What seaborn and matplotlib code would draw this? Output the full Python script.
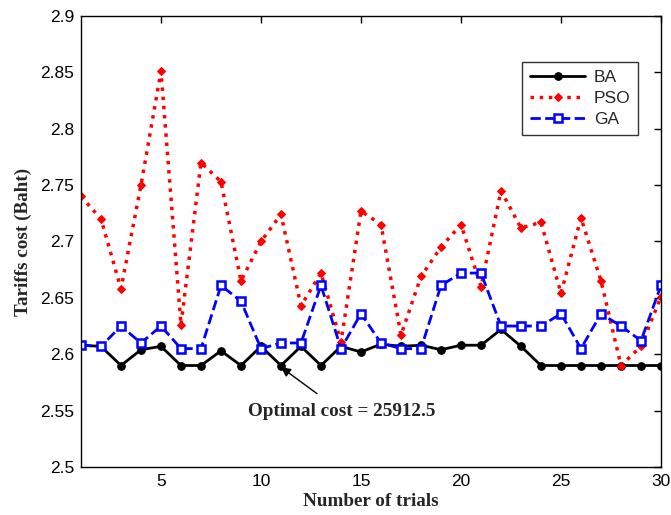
import matplotlib
matplotlib.use("Agg")
import matplotlib.pyplot as plt
import seaborn as sns
import pandas as pd
import numpy as np

trials = list(range(1, 31))
ba = [2.608, 2.607, 2.590, 2.604, 2.607, 2.590, 2.590, 2.603, 2.590, 2.607,
      2.590, 2.607, 2.590, 2.607, 2.602, 2.609, 2.607, 2.608, 2.604, 2.608,
      2.608, 2.622, 2.607, 2.590, 2.590, 2.590, 2.590, 2.590, 2.590, 2.590]
pso = [2.740, 2.720, 2.658, 2.750, 2.851, 2.626, 2.770, 2.753, 2.665, 2.700,
       2.724, 2.643, 2.672, 2.611, 2.727, 2.715, 2.617, 2.669, 2.695, 2.715,
       2.660, 2.745, 2.712, 2.717, 2.654, 2.721, 2.665, 2.590, 2.607, 2.651]
ga = [2.608, 2.607, 2.625, 2.610, 2.625, 2.605, 2.605, 2.661, 2.647, 2.605,
      2.610, 2.610, 2.661, 2.605, 2.636, 2.610, 2.605, 2.605, 2.661, 2.672,
      2.672, 2.625, 2.625, 2.625, 2.636, 2.605, 2.636, 2.625, 2.612, 2.661]
series_names = ["BA", "PSO", "GA"]
x_ticks = [5, 10, 15, 20, 25, 30]
y_ticks = [2.5, 2.55, 2.6, 2.65, 2.7, 2.75, 2.8, 2.85, 2.9]
annotation_text = "Optimal cost = 25912.5"

df = pd.DataFrame({"trial": trials * 3,
                   "cost": ba + pso + ga,
                   "alg": sum([[n] * len(trials) for n in series_names], [])})

sns.set_style("white")
plt.rcParams['font.family'] = ['Liberation Sans', 'DejaVu Sans']

fig = plt.figure(figsize=(6.71, 5.15), dpi=100)
ax = fig.add_axes([0.1207, 0.0932, 0.8644, 0.8758])

styles = {
    "BA": dict(color="black", linestyle="-", linewidth=2, marker="o",
               markersize=5.5, markerfacecolor="black", markeredgecolor="black"),
    "PSO": dict(color="red", linestyle=":", linewidth=2.5, marker="D",
                markersize=4, markerfacecolor="red", markeredgecolor="red"),
    "GA": dict(color="blue", linestyle="--", linewidth=2, marker="s",
               markersize=5.5, markerfacecolor="white", markeredgecolor="blue",
               markeredgewidth=1.8),
}
for name in series_names:
    sub = df[df["alg"] == name]
    sns.lineplot(data=sub, x="trial", y="cost", ax=ax, label=name,
                 **styles[name])

ax.set_xlim(1, 30)
ax.set_ylim(2.5, 2.9)
ax.set_xticks(x_ticks)
ax.set_yticks(y_ticks)
ax.set_yticklabels([f"{v:g}" for v in y_ticks])
ax.tick_params(direction="in", top=True, right=True, length=5, width=1,
               labelsize=12.5, colors="black", pad=5)
for s in ax.spines.values():
    s.set_color("black")
    s.set_linewidth(1)

ax.set_xlabel("Number of trials", family="Liberation Serif", fontweight="bold",
              fontsize=13.8, labelpad=3)
ax.set_ylabel("Tariffs cost (Baht)", family="Liberation Serif", fontweight="bold",
              fontsize=13.8, labelpad=6)

ax.annotate(annotation_text, xy=(11.0, 2.5885), xytext=(14.05, 2.5488),
            ha="center", va="center", family="Liberation Serif",
            fontweight="bold", fontsize=13.8,
            arrowprops=dict(arrowstyle="-|>", color="black", lw=1,
                            shrinkA=8, shrinkB=0, mutation_scale=14))

leg = ax.legend(loc="upper right", bbox_to_anchor=(0.976, 0.918), fontsize=12.5,
                frameon=True, fancybox=False, handlelength=3.2,
                borderpad=0.45, labelspacing=0.35, handletextpad=0.5)
leg.get_frame().set_edgecolor("black")
leg.get_frame().set_linewidth(1)

fig.savefig("out.png", dpi=100)
